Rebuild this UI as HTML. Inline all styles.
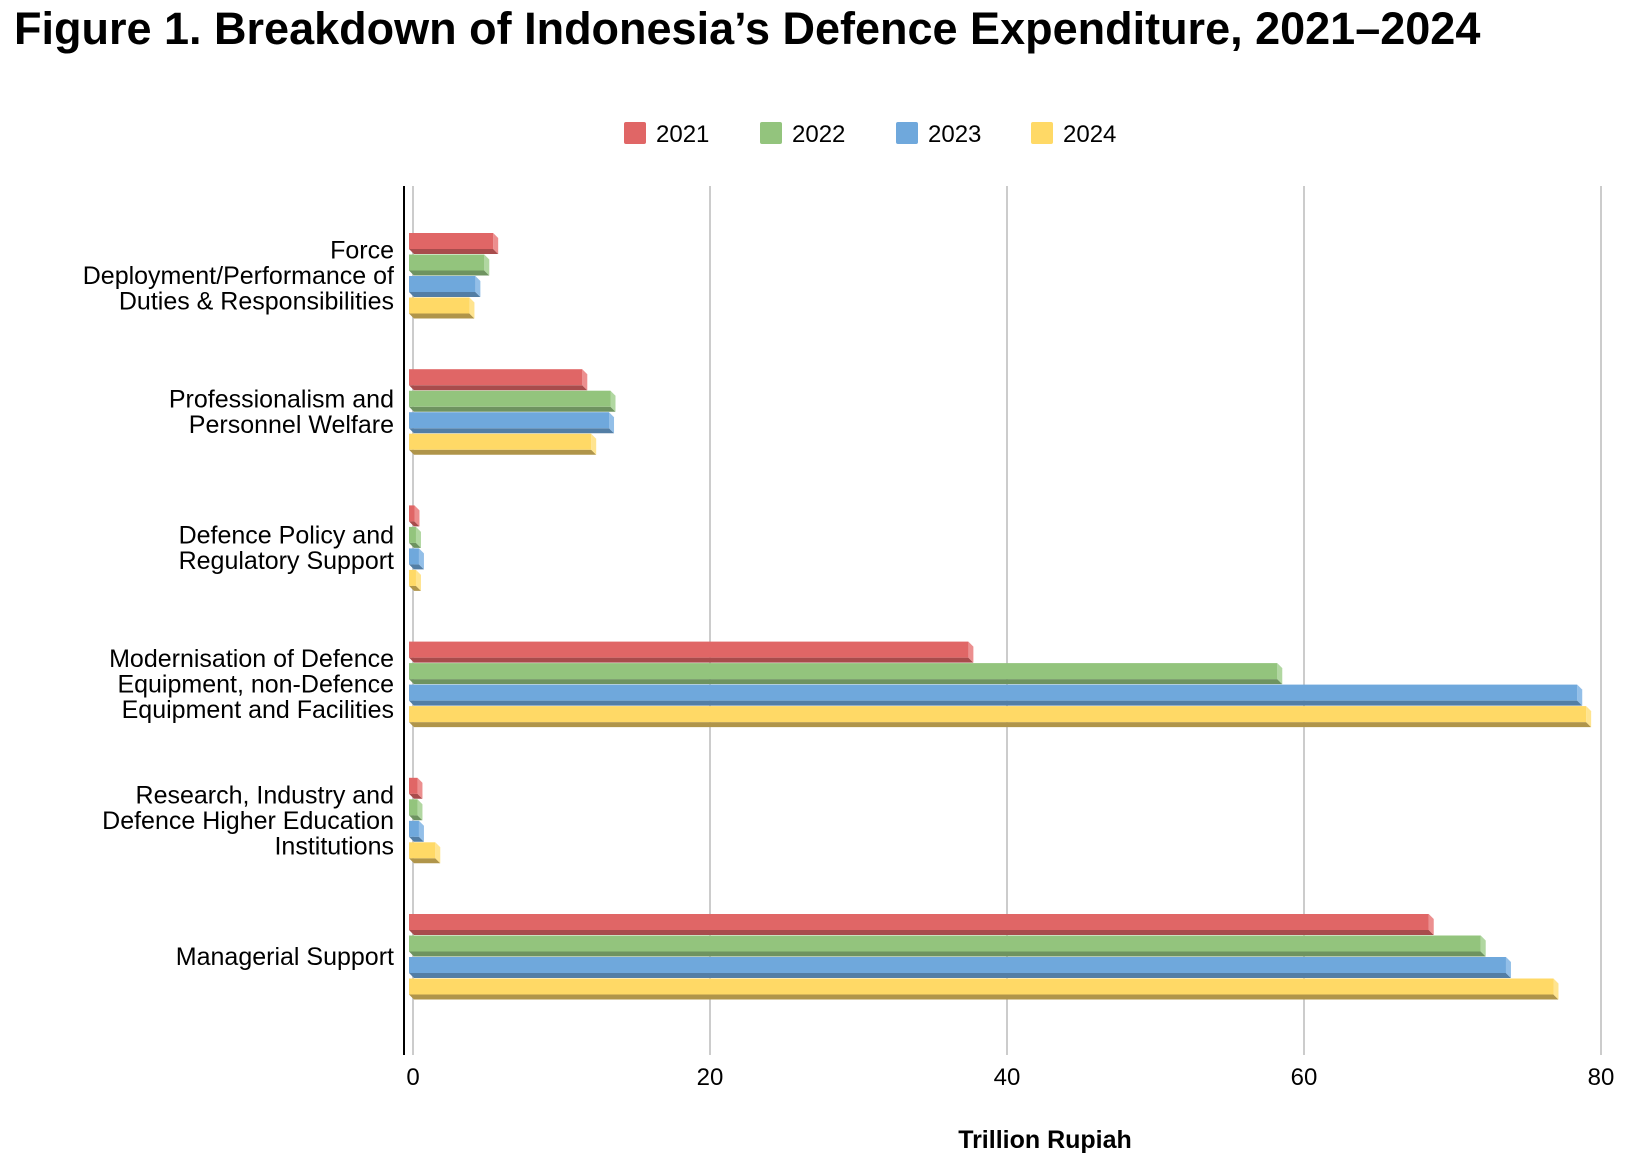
<!DOCTYPE html>
<html><head><meta charset="utf-8"><style>
html,body{margin:0;padding:0;background:#fff;}
svg text{font-family:"Liberation Sans",Arial,sans-serif;}
</style></head><body>
<svg id="chart" width="1638" height="1160" xmlns="http://www.w3.org/2000/svg">
<text x="14" y="44" font-size="45" font-weight="bold" fill="#000">Figure 1. Breakdown of Indonesia’s Defence Expenditure, 2021–2024</text>
<g id="legend"></g>
<g id="grid"></g>
<g id="bars"></g>
<g id="labels"></g>
<line x1="404" y1="186" x2="404" y2="1055" stroke="#000" stroke-width="2"/>
<text x="1045" y="1148" font-size="25" font-weight="bold" text-anchor="middle">Trillion Rupiah</text>
</svg>
<script>
const categories=[
 ["Force","Deployment/Performance of","Duties & Responsibilities"],
 ["Professionalism and","Personnel Welfare"],
 ["Defence Policy and","Regulatory Support"],
 ["Modernisation of Defence","Equipment, non-Defence","Equipment and Facilities"],
 ["Research, Industry and","Defence Higher Education","Institutions"],
 ["Managerial Support"]];
const seriesNames=["2021","2022","2023","2024"];
const v2021=[5.4,11.4,0.1,37.4,0.3,68.4];
const v2022=[4.8,13.3,0.2,58.2,0.3,71.9];
const v2023=[4.2,13.2,0.4,78.4,0.4,73.6];
const v2024=[3.8,12.0,0.2,79.0,1.5,76.8];
const xTicks=[0,20,40,60,80];
const colors=["#e06666","#93c47d","#6fa8dc","#ffd966"];
const sides=["#ec8f8f","#b1d7a1","#93bfe8","#ffe48f"];
const shades=["#a84c4c","#6e9360","#537ea5","#b0954a"];
const NS="http://www.w3.org/2000/svg";
const x=v=>413+v*14.85;
function el(t,a,p){const e=document.createElementNS(NS,t);for(const k in a)e.setAttribute(k,a[k]);p.appendChild(e);return e;}
const grid=document.getElementById('grid'),bars=document.getElementById('bars'),labels=document.getElementById('labels'),legend=document.getElementById('legend');
xTicks.forEach(t=>{
 const l=el('line',{x1:x(t),x2:x(t),y1:186,y2:1055,stroke:'#ccc','stroke-width':2},grid);
 
 
 const tx=el('text',{x:x(t),y:1085,'font-size':24,'text-anchor':'middle'},grid);tx.textContent=t;
 
 
});
seriesNames.forEach((s,i)=>{
 const lx=[624,760,896,1031][i];
 const r=el('rect',{x:lx,y:122,width:22,height:22,rx:2,fill:colors[i]},legend);
 
 
 const t=el('text',{x:lx+32,y:142,'font-size':24},legend);t.textContent=s;
 
 
});
const all=[v2021,v2022,v2023,v2024];
categories.forEach((c,ci)=>{
 const top=233+ci*136.2;
 all.forEach((arr,si)=>{
  const y=top+si*21.5, x0=409, x1=x(arr[ci]);
  const g=el('g',{},bars);
  
  
  el('polygon',{points:`${x0},${y+16} ${x1},${y+16} ${x1+5},${y+21} ${x0+5},${y+21}`,fill:shades[si]},g);
  el('polygon',{points:`${x1},${y} ${x1+5},${y+5} ${x1+5},${y+21} ${x1},${y+16}`,fill:sides[si]},g);
  el('rect',{x:x0,y:y,width:Math.max(0,x1-x0),height:16,fill:colors[si]},g);
 });
 const cy=top+43, n=c.length, lh=25.5;
 c.forEach((line,li)=>{
  const t=el('text',{x:394,y:cy+(li-(n-1)/2)*lh+8,'font-size':25,'text-anchor':'end'},labels);
  t.textContent=line;
  
  
 });
});
</script>
</body></html>
